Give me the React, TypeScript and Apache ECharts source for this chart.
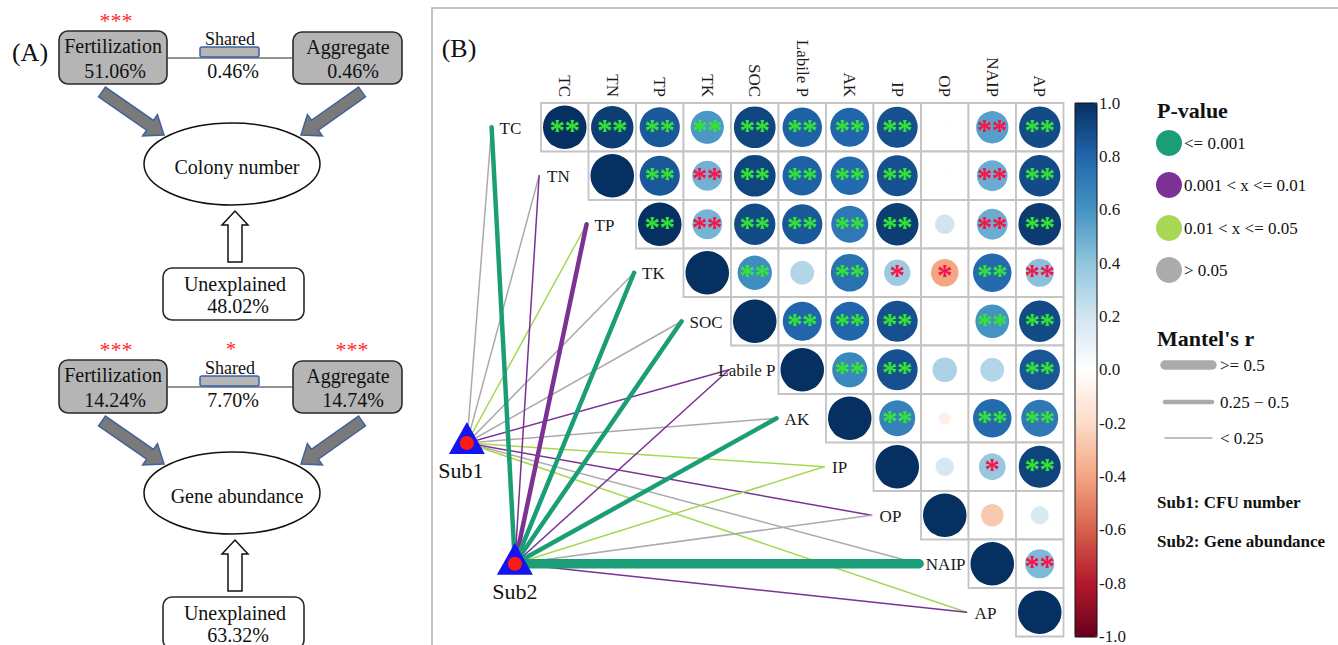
import React, { useEffect, useRef } from "react";
import * as echarts from "echarts";

// ---------------- DATA ----------------
const variables = ["TC", "TN", "TP", "TK", "SOC", "Labile P", "AK", "IP", "OP", "NAIP", "AP"];

// Upper triangle of the correlation matrix: row i holds columns i..10
const corrRows: number[][] = [
  [1.0, 0.95, 0.85, 0.58, 0.92, 0.82, 0.8, 0.88, 0.02, 0.55, 0.9],
  [1.0, 0.85, 0.48, 0.92, 0.82, 0.78, 0.88, 0.02, 0.5, 0.9],
  [1.0, 0.47, 0.9, 0.85, 0.72, 0.95, 0.2, 0.5, 0.96],
  [1.0, 0.62, 0.3, 0.75, 0.37, -0.4, 0.78, 0.42],
  [1.0, 0.8, 0.8, 0.88, 0.005, 0.6, 0.9],
  [1.0, 0.65, 0.88, 0.32, 0.3, 0.86],
  [1.0, 0.68, -0.08, 0.78, 0.72],
  [1.0, 0.18, 0.38, 0.93],
  [1.0, -0.27, 0.17],
  [1.0, 0.45],
  [1.0],
];
// significance marks: g = green, r = red; digit = number of asterisks
const sigRows: string[][] = [
  ["g2", "g2", "g2", "g2", "g2", "g2", "g2", "g2", "", "r2", "g2"],
  ["", "g2", "r2", "g2", "g2", "g2", "g2", "", "r2", "g2"],
  ["g2", "r2", "g2", "g2", "g2", "g2", "", "r2", "g2"],
  ["", "g2", "", "g2", "r1", "r1", "g2", "r2"],
  ["", "g2", "g2", "g2", "", "g2", "g2"],
  ["", "g2", "g2", "", "", "g2"],
  ["", "g2", "", "g2", "g2"],
  ["", "", "r1", "g2"],
  ["", "", ""],
  ["", "r2"],
  [""],
];

// Mantel test links (per variable, same order as `variables`)
const subNames = ["Sub1", "Sub2"];
const sub1P = ["ns", "ns", "p05", "ns", "ns", "p01", "ns", "p05", "p01", "ns", "p05"];
const sub1R = ["lt", "lt", "lt", "lt", "lt", "lt", "lt", "lt", "lt", "lt", "lt"];
const sub2P = ["p001", "p01", "p01", "p001", "p001", "p01", "p001", "p05", "ns", "p001", "p01"];
const sub2R = ["mid", "lt", "mid", "mid", "mid", "lt", "mid", "lt", "lt", "ge", "lt"];

const pKeys = ["p001", "p01", "p05", "ns"];
const pLabels = ["<= 0.001", "0.001 < x <= 0.01", "0.01 < x <= 0.05", "> 0.05"];
const rKeys = ["ge", "mid", "lt"];
const rLabels = [">= 0.5", "0.25 \u2212 0.5", "< 0.25"];

const colorbarMin = -1;
const colorbarMax = 1;
const colorbarStep = 0.2;

// Panel A (variation partitioning)
const vennNames = ["Fertilization", "Shared", "Aggregate", "Unexplained"];
const colonyTitle = "Colony number";
const colonyPercents = ["51.06%", "0.46%", "0.46%", "48.02%"];
const colonySig = ["***", "", "", ""];
const geneTitle = "Gene abundance";
const genePercents = ["14.24%", "7.70%", "14.74%", "63.32%"];
const geneSig = ["***", "*", "***", ""];

// ---------------- STYLE ----------------
const SERIF = '"Liberation Serif", "Times New Roman", serif';
const RDBU = ["#67001F", "#B2182B", "#D6604D", "#F4A582", "#FDDBC7", "#FFFFFF", "#D1E5F0", "#92C5DE", "#4393C3", "#2166AC", "#053061"];
const P_COLORS: Record<string, string> = { p001: "#1b9e77", p01: "#7b3294", p05: "#a6d854", ns: "#ababab" };
const R_WIDTHS: Record<string, number> = { ge: 9.5, mid: 4.5, lt: 1.5 };
const STAR_GREEN = "#35e335";
const STAR_RED = "#f0164a";
// anchor positions of Sub1/Sub2 in cell units of the matrix grid
const SUB_ANCHORS = [[-2.06, 6.51], [-1.05, 9.0]];
const LABEL_SHIFT = 1.54; // endpoint distance left of diagonal cell (cells)

function measure(t: string, font: string) {
  const ctx = document.createElement("canvas").getContext("2d")!;
  ctx.font = font;
  return ctx.measureText(t).width;
}

// ---------------- BUILD ----------------
const matrixData: number[][] = [];
const matrixSig: string[] = [];
corrRows.forEach((row, i) =>
  row.forEach((v, k) => {
    matrixData.push([i + k, i, v]);
    matrixSig.push(sigRows[i][k]);
  })
);

const mantelItems: { sub: number; v: number; p: string; r: string }[] = [];
variables.forEach((_, i) => mantelItems.push({ sub: 0, v: i, p: sub1P[i], r: sub1R[i] }));
variables.forEach((_, i) => mantelItems.push({ sub: 1, v: i, p: sub2P[i], r: sub2R[i] }));

function txt(text: string, x: number, y: number, size: number, opt: any = {}) {
  return {
    type: "text",
    x,
    y,
    z: 20,
    style: {
      text,
      fill: opt.fill || "#111",
      fontSize: size,
      fontFamily: SERIF,
      fontWeight: opt.bold ? "bold" : "normal",
      align: opt.align || "center",
      verticalAlign: "middle",
    },
  };
}

function blockArrow(x1: number, y1: number, x2: number, y2: number, sw: number, hw: number, hl: number) {
  const dx = x2 - x1, dy = y2 - y1;
  const L = Math.hypot(dx, dy);
  const ux = dx / L, uy = dy / L;
  const nx = -uy, ny = ux;
  const bx = x2 - ux * hl, by = y2 - uy * hl;
  return [
    [x1 + nx * sw, y1 + ny * sw],
    [bx + nx * sw, by + ny * sw],
    [bx + nx * hw, by + ny * hw],
    [x2, y2],
    [bx - nx * hw, by - ny * hw],
    [bx - nx * sw, by - ny * sw],
    [x1 - nx * sw, y1 - ny * sw],
  ];
}

function venn(dy: number, title: string, pcts: string[], sigs: string[]) {
  const els: any[] = [];
  const box = (x: number, y: number, w: number, h: number, fill: string) => ({
    type: "rect",
    z: 10,
    shape: { x, y: y + dy, width: w, height: h, r: 9 },
    style: { fill, stroke: "#2b2b2b", lineWidth: 1.6 },
  });
  els.push({ type: "line", z: 9, shape: { x1: 168, y1: 58 + dy, x2: 292, y2: 58 + dy }, style: { stroke: "#707070", lineWidth: 1.5 } });
  els.push(box(59, 31, 108, 53, "#b5b5b5"));
  els.push(box(293, 32, 109, 52, "#b5b5b5"));
  els.push({ type: "rect", z: 10, shape: { x: 200, y: 47 + dy, width: 59, height: 10, r: 2 }, style: { fill: "#b5b5b5", stroke: "#3a62a8", lineWidth: 1.5 } });
  els.push(txt(vennNames[0], 113, 46 + dy, 20));
  els.push(txt(pcts[0], 115, 71 + dy, 20));
  els.push(txt(vennNames[1], 230, 39 + dy, 18));
  els.push(txt(pcts[1], 233, 71 + dy, 20));
  els.push(txt(vennNames[2], 348, 47 + dy, 20));
  els.push(txt(pcts[2], 353, 71 + dy, 20));
  const starY = 20 + dy;
  if (sigs[0]) els.push(txt(sigs[0], 116, starY, 22, { fill: "#ff2a2a" }));
  if (sigs[1]) els.push(txt(sigs[1], 231, starY, 20, { fill: "#ff2a2a" }));
  if (sigs[2]) els.push(txt(sigs[2], 352, starY, 22, { fill: "#ff2a2a" }));
  const arrowStyle = { fill: "#7a7a7a", stroke: "#41639c", lineWidth: 1.5 };
  els.push({ type: "polygon", z: 10, shape: { points: blockArrow(102, 92 + dy, 164, 135 + dy, 6, 13, 17) }, style: arrowStyle });
  els.push({ type: "polygon", z: 10, shape: { points: blockArrow(362, 92 + dy, 301, 135 + dy, 6, 13, 17) }, style: arrowStyle });
  els.push({ type: "ellipse", z: 10, shape: { cx: 232, cy: 164 + dy, rx: 88, ry: 41 }, style: { fill: "#fff", stroke: "#111", lineWidth: 1.5 } });
  els.push(txt(title, 237, 167 + dy, 20));
  els.push({ type: "polygon", z: 10, shape: { points: blockArrow(235, 262 + dy, 235, 211 + dy, 7, 13, 14) }, style: { fill: "#fff", stroke: "#111", lineWidth: 1.5 } });
  els.push(box(163, 268, 141, 52, "#fff"));
  els.push(txt(vennNames[3], 235, 284 + dy, 20));
  els.push(txt(pcts[3], 238, 306 + dy, 20));
  return els;
}

function buildOption() {
  const labelFont = `17px "Liberation Serif"`;
  const graphics: any[] = [
    txt("(A)", 30, 52, 26),
    ...venn(0, colonyTitle, colonyPercents, colonySig),
    ...venn(329, geneTitle, genePercents, geneSig),
    { type: "rect", z: 1, shape: { x: 432, y: 8, width: 1000, height: 700 }, style: { fill: "none", stroke: "#b0b0b0", lineWidth: 1.5 } },
    txt("(B)", 459, 48, 26),
    { type: "rect", z: 30, shape: { x: 1075, y: 103, width: 22, height: 534 }, style: { fill: "none", stroke: "#111", lineWidth: 1 } },
    txt("P-value", 1157, 110, 22, { bold: true, align: "left" }),
    txt("Mantel's r", 1157, 338, 22, { bold: true, align: "left" }),
    txt("Sub1: CFU number", 1157, 502, 17, { bold: true, align: "left" }),
    txt("Sub2: Gene abundance", 1157, 541, 17, { bold: true, align: "left" }),
  ];
  pKeys.forEach((k, i) => {
    const y = [143, 185, 228, 270][i];
    graphics.push({ type: "circle", z: 20, shape: { cx: 1169, cy: y, r: 13 }, style: { fill: P_COLORS[k] } });
    graphics.push(txt(pLabels[i], 1184, y, 17, { align: "left" }));
  });
  rKeys.forEach((k, i) => {
    const y = [365, 402, 438][i];
    graphics.push({ type: "line", z: 20, shape: { x1: 1165, y1: y, x2: 1212, y2: y }, style: { stroke: "#ababab", lineWidth: R_WIDTHS[k], lineCap: "round" } });
    graphics.push(txt(rLabels[i], 1220, y, 17, { align: "left" }));
  });

  const cellPx = (api: any) => {
    const c0 = api.coord([0, 0]);
    const s = api.size([1, 1]);
    return { c0, w: s[0], h: s[1], at: (cx: number, cy: number) => [c0[0] + cx * s[0], c0[1] + cy * s[1]] };
  };

  return {
    animation: false,
    backgroundColor: "#fff",
    grid: [
      { left: 541, top: 103, width: 522.5, height: 533.5 },
      { left: 1075, top: 103, width: 22, height: 534 },
    ],
    xAxis: [
      {
        gridIndex: 0,
        type: "category",
        data: variables,
        position: "top",
        axisLine: { show: false },
        axisTick: { show: false },
        splitLine: { show: false },
        axisLabel: { rotate: 90, fontSize: 17, fontFamily: SERIF, color: "#1a1a1a", margin: 6 },
      },
      { gridIndex: 1, type: "value", show: false, min: 0, max: 1 },
    ],
    yAxis: [
      { gridIndex: 0, type: "category", data: variables, inverse: true, show: false },
      {
        gridIndex: 1,
        type: "value",
        min: colorbarMin,
        max: colorbarMax,
        interval: colorbarStep,
        position: "right",
        axisLine: { show: false },
        axisTick: { show: true, length: 5, lineStyle: { color: "#111" } },
        splitLine: { show: false },
        axisLabel: {
          fontSize: 17,
          fontFamily: SERIF,
          color: "#1a1a1a",
          margin: 2,
          formatter: (v: number) => (Math.abs(v) < 1e-9 ? 0 : v).toFixed(1),
        },
      },
    ],
    visualMap: {
      type: "continuous",
      min: colorbarMin,
      max: colorbarMax,
      dimension: 2,
      seriesIndex: 0,
      inRange: { color: RDBU },
      left: 1075,
      top: 103,
      itemWidth: 22,
      itemHeight: 534,
      padding: 0,
      calculable: false,
      hoverLink: false,
      text: null,
    },
    graphic: { elements: graphics },
    series: [
      {
        type: "custom",
        coordinateSystem: "cartesian2d",
        xAxisIndex: 0,
        yAxisIndex: 0,
        clip: false,
        z: 2,
        data: matrixData,
        renderItem: (params: any, api: any) => {
          const col = api.value(0), row = api.value(1), v = api.value(2);
          const c = api.coord([col, row]);
          const s = api.size([1, 1]);
          const w = s[0], h = s[1];
          const rad = Math.sqrt(Math.abs(v)) * (Math.min(w, h) / 2 - 2);
          const sig = matrixSig[params.dataIndex];
          const children: any[] = [
            { type: "rect", shape: { x: c[0] - w / 2, y: c[1] - h / 2, width: w, height: h }, style: { fill: "#fff", stroke: "#c4c4c4", lineWidth: 1.8 } },
            { type: "circle", shape: { cx: c[0], cy: c[1], r: rad }, style: { fill: api.visual("color") } },
          ];
          if (sig) {
            const n = +sig[1];
            const fill = sig[0] === "g" ? STAR_GREEN : STAR_RED;
            for (let k = 0; k < n; k++) {
              const ox = n === 1 ? 0 : k === 0 ? -7.5 : 7.5;
              children.push({
                type: "text",
                x: c[0] + ox,
                y: c[1] + 3,
                style: { text: "*", fill, fontSize: 31, fontFamily: SERIF, fontWeight: "bold", align: "center", verticalAlign: "middle" },
              });
            }
          }
          return { type: "group", children };
        },
      },
      {
        type: "custom",
        coordinateSystem: "cartesian2d",
        xAxisIndex: 0,
        yAxisIndex: 0,
        clip: false,
        z: 3,
        data: mantelItems.map((m) => [m.v, m.v]),
        renderItem: (params: any, api: any) => {
          const m = mantelItems[params.dataIndex];
          const g = cellPx(api);
          const a = g.at(SUB_ANCHORS[m.sub][0], SUB_ANCHORS[m.sub][1]);
          const b = g.at(m.v - LABEL_SHIFT, m.v);
          const lw = R_WIDTHS[m.r];
          return {
            type: "line",
            z2: lw * 10,
            shape: { x1: a[0], y1: a[1], x2: b[0], y2: b[1] },
            style: { stroke: P_COLORS[m.p], lineWidth: lw, lineCap: "round" },
          };
        },
      },
      {
        type: "custom",
        coordinateSystem: "cartesian2d",
        xAxisIndex: 0,
        yAxisIndex: 0,
        clip: false,
        z: 4,
        data: variables.map((_, i) => [i, i]),
        renderItem: (params: any, api: any) => {
          const i = params.dataIndex;
          const g = cellPx(api);
          const e = g.at(i - LABEL_SHIFT, i);
          const cellLeft = g.at(i, i)[0] - g.w / 2;
          const tw = measure(variables[i], labelFont);
          const x = Math.min(e[0] + 8, cellLeft - 3 - tw);
          return {
            type: "text",
            x,
            y: e[1] + 1,
            style: { text: variables[i], fill: "#1a1a1a", fontSize: 17, fontFamily: SERIF, align: "left", verticalAlign: "middle" },
          };
        },
      },
      {
        type: "custom",
        coordinateSystem: "cartesian2d",
        xAxisIndex: 0,
        yAxisIndex: 0,
        clip: false,
        z: 5,
        data: subNames.map((_, i) => [i, i]),
        renderItem: (params: any, api: any) => {
          const i = params.dataIndex;
          const g = cellPx(api);
          const p = g.at(SUB_ANCHORS[i][0], SUB_ANCHORS[i][1]);
          const tx = i === 0 ? p[0] - 6 : p[0];
          return {
            type: "group",
            children: [
              { type: "polygon", shape: { points: [[p[0], p[1] - 21], [p[0] - 18, p[1] + 11], [p[0] + 18, p[1] + 11]] }, style: { fill: "#1414f0" } },
              { type: "circle", shape: { cx: p[0], cy: p[1], r: 7 }, style: { fill: "#ff1a1a" } },
              { type: "text", x: tx, y: p[1] + 28, style: { text: subNames[i], fill: "#111", fontSize: 22, fontFamily: SERIF, align: "center", verticalAlign: "middle" } },
            ],
          };
        },
      },
    ],
  };
}

export default function App() {
  const ref = useRef<HTMLDivElement>(null);
  useEffect(() => {
    const chart = echarts.init(ref.current!, null, { renderer: "svg" });
    chart.setOption(buildOption() as any);
    return () => chart.dispose();
  }, []);
  return <div ref={ref} style={{ position: "fixed", left: 0, top: 0, width: 1338, height: 645, background: "#fff" }} />;
}
